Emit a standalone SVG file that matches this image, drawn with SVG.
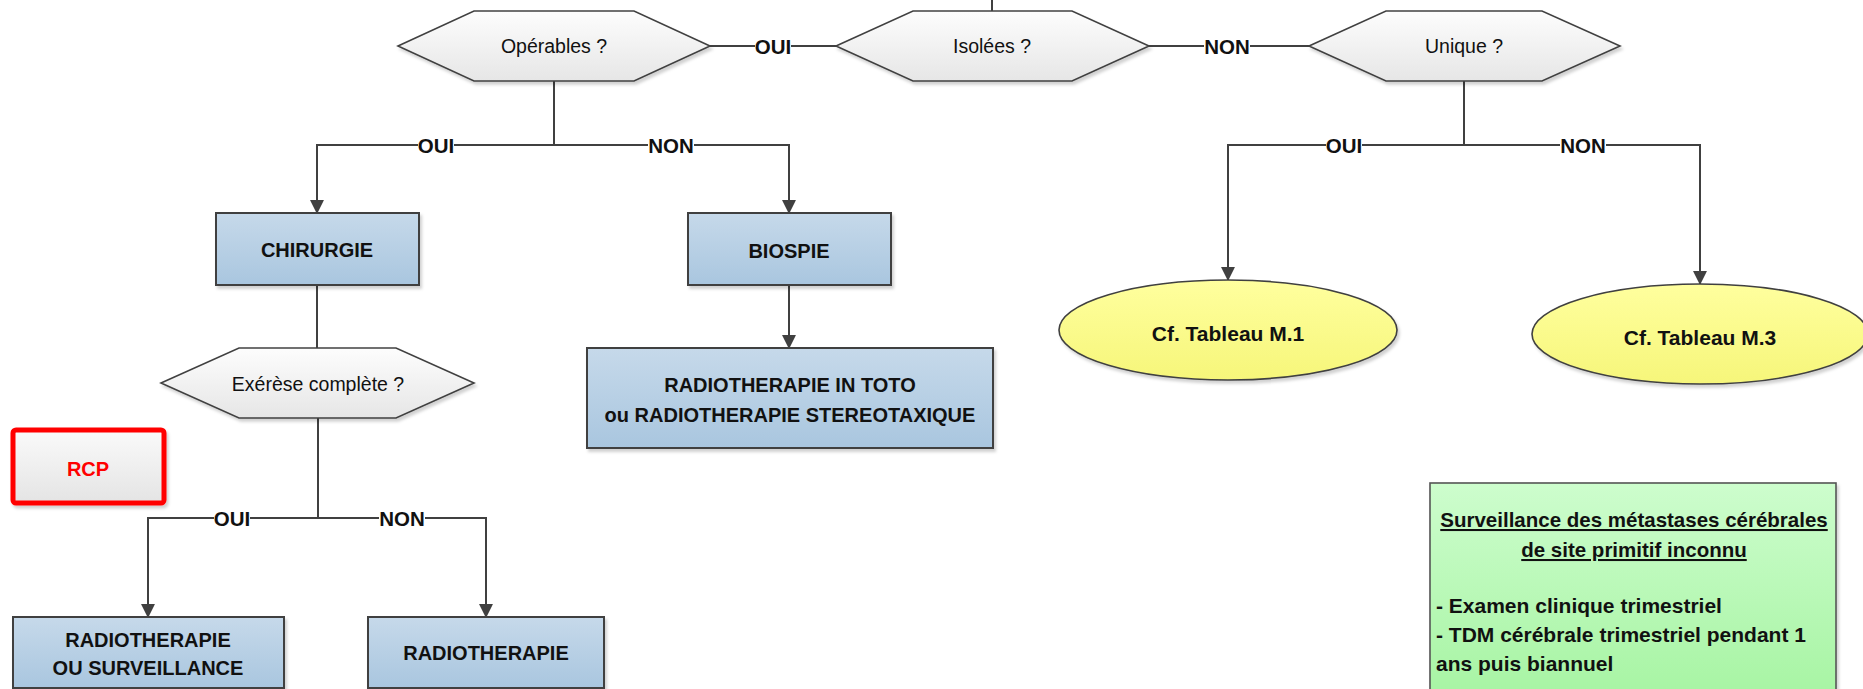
<svg xmlns="http://www.w3.org/2000/svg" width="1863" height="689" viewBox="0 0 1863 689">
<defs>
<style>
.hex{fill:url(#gHex);stroke:#404040;stroke-width:1.6;filter:url(#sh)}
.box{fill:url(#gBlue);stroke:#404040;stroke-width:2;filter:url(#sh)}
.ell{fill:url(#gYel);stroke:#404040;stroke-width:1.6;filter:url(#sh)}
.q{font-family:"Liberation Sans",Arial,sans-serif;font-size:19.5px;fill:#111;text-anchor:middle;dominant-baseline:central}
.b{font-family:"Liberation Sans",Arial,sans-serif;font-size:20px;font-weight:bold;fill:#111;text-anchor:middle;dominant-baseline:central}
.lbl{font-family:"Liberation Sans",Arial,sans-serif;font-size:20.5px;font-weight:bold;fill:#111;text-anchor:middle;dominant-baseline:central}
.bg{fill:#fff}
.ln{fill:none;stroke:#404040;stroke-width:2}
.ar{fill:none;stroke:#404040;stroke-width:2;marker-end:url(#arr)}
.g{font-family:"Liberation Sans",Arial,sans-serif;font-size:21px;font-weight:bold;fill:#111}
</style>
<linearGradient id="gHex" x1="0" y1="0" x2="0" y2="1"><stop offset="0" stop-color="#fdfdfd"/><stop offset="1" stop-color="#e6e6e6"/></linearGradient>
<linearGradient id="gBlue" x1="0" y1="0" x2="0" y2="1"><stop offset="0" stop-color="#c6d9ea"/><stop offset="1" stop-color="#a9c6df"/></linearGradient>
<linearGradient id="gYel" x1="0" y1="0" x2="0" y2="1"><stop offset="0" stop-color="#ffff9e"/><stop offset="1" stop-color="#f6f67a"/></linearGradient>
<linearGradient id="gGrey" x1="0" y1="0" x2="0" y2="1"><stop offset="0" stop-color="#fafafa"/><stop offset="1" stop-color="#e4e4e4"/></linearGradient>
<linearGradient id="gGreen" x1="0" y1="0" x2="0" y2="1"><stop offset="0" stop-color="#cdfdcd"/><stop offset="1" stop-color="#a6f4a2"/></linearGradient>
<filter id="sh" x="-5%" y="-5%" width="112%" height="120%"><feDropShadow dx="2" dy="3" stdDeviation="1.5" flood-color="#000" flood-opacity="0.18"/></filter>
<marker id="arr" markerWidth="14" markerHeight="16" refX="14" refY="7.5" orient="auto" markerUnits="userSpaceOnUse" viewBox="0 0 15 15"><path d="M0,0 L15,7.5 L0,15 Z" fill="#404040"/></marker>
</defs>
<rect width="1863" height="689" fill="#fff"/>

<g id="connectors">
<path class="ln" d="M992,0 V11"/>
<path class="ln" d="M710,46 H836"/>
<path class="ln" d="M1149,46 H1309"/>
<path class="ln" d="M554,81 V145"/>
<path class="ar" d="M554,145 H317 V213"/>
<path class="ar" d="M554,145 H789 V213"/>
<path class="ln" d="M1464,81 V145"/>
<path class="ar" d="M1464,145 H1228 V280"/>
<path class="ar" d="M1464,145 H1700 V284"/>
<path class="ln" d="M317,285 V348"/>
<path class="ar" d="M789,285 V348"/>
<path class="ln" d="M318,418 V518"/>
<path class="ar" d="M318,518 H148 V617"/>
<path class="ar" d="M318,518 H486 V617"/>
<rect class="bg" x="755" y="38" width="36" height="16"/>
<rect class="bg" x="1204" y="38" width="46" height="16"/>
<rect class="bg" x="418" y="137" width="36" height="16"/>
<rect class="bg" x="648" y="137" width="46" height="16"/>
<rect class="bg" x="1326" y="137" width="36" height="16"/>
<rect class="bg" x="1560" y="137" width="46" height="16"/>
<rect class="bg" x="214" y="510" width="36" height="16"/>
<rect class="bg" x="379" y="510" width="46" height="16"/>
<text class="lbl" x="773" y="46">OUI</text>
<text class="lbl" x="1227" y="46">NON</text>
<text class="lbl" x="436" y="145">OUI</text>
<text class="lbl" x="671" y="145">NON</text>
<text class="lbl" x="1344" y="145">OUI</text>
<text class="lbl" x="1583" y="145">NON</text>
<text class="lbl" x="232" y="518">OUI</text>
<text class="lbl" x="402" y="518">NON</text>
</g>

<g id="operables">
<polygon class="hex" points="398,46 474,11 634,11 710,46 634,81 474,81"/>
<text class="q" x="554" y="46">Opérables ?</text>
</g>
<g id="isolees">
<polygon class="hex" points="836,46 913,11 1072,11 1149,46 1072,81 913,81"/>
<text class="q" x="992" y="46">Isolées ?</text>
</g>
<g id="unique">
<polygon class="hex" points="1309,46 1386,11 1542,11 1620,46 1542,81 1386,81"/>
<text class="q" x="1464" y="46">Unique ?</text>
</g>
<g id="chirurgie">
<rect class="box" x="216" y="213" width="203" height="72"/>
<text class="b" x="317" y="250">CHIRURGIE</text>
</g>
<g id="biospie">
<rect class="box" x="688" y="213" width="203" height="72"/>
<text class="b" x="789" y="251">BIOSPIE</text>
</g>
<g id="tableau-m1">
<ellipse class="ell" cx="1228" cy="330" rx="169" ry="50"/>
<text class="b" x="1228" y="333" style="font-size:21px">Cf. Tableau M.1</text>
</g>
<g id="tableau-m3">
<ellipse class="ell" cx="1700" cy="334" rx="168" ry="50"/>
<text class="b" x="1700" y="337" style="font-size:21px">Cf. Tableau M.3</text>
</g>
<g id="exerese">
<polygon class="hex" points="161,383 239,348 396,348 474,383 396,418 239,418"/>
<text class="q" x="318" y="384">Exérèse complète ?</text>
</g>
<g id="radio-intoto">
<rect class="box" x="587" y="348" width="406" height="100"/>
<text class="b" x="790" y="385">RADIOTHERAPIE IN TOTO</text>
<text class="b" x="790" y="415">ou RADIOTHERAPIE STEREOTAXIQUE</text>
</g>
<g id="rcp">
<rect x="13" y="430" width="151" height="73" rx="3" fill="url(#gGrey)" stroke="#ff0000" stroke-width="5" filter="url(#sh)"/>
<text class="b" x="88" y="469" style="fill:#ff0000">RCP</text>
</g>
<g id="radio-surv">
<rect class="box" x="13" y="617" width="271" height="71"/>
<text class="b" x="148" y="640">RADIOTHERAPIE</text>
<text class="b" x="148" y="668">OU SURVEILLANCE</text>
</g>
<g id="radio">
<rect class="box" x="368" y="617" width="236" height="71"/>
<text class="b" x="486" y="653">RADIOTHERAPIE</text>
</g>
<g id="surveillance">
<rect x="1430" y="483" width="406" height="220" fill="url(#gGreen)" stroke="#555" stroke-width="1.6" filter="url(#sh)"/>
<text class="g" x="1634" y="527" text-anchor="middle" text-decoration="underline" style="font-size:20.5px">Surveillance des métastases cérébrales</text>
<text class="g" x="1634" y="557" text-anchor="middle" text-decoration="underline" style="font-size:20.5px">de site primitif inconnu</text>
<text class="g" x="1436" y="613">- Examen clinique trimestriel</text>
<text class="g" x="1436" y="642">- TDM cérébrale trimestriel pendant 1</text>
<text class="g" x="1436" y="671">ans puis biannuel</text>
</g>
</svg>
